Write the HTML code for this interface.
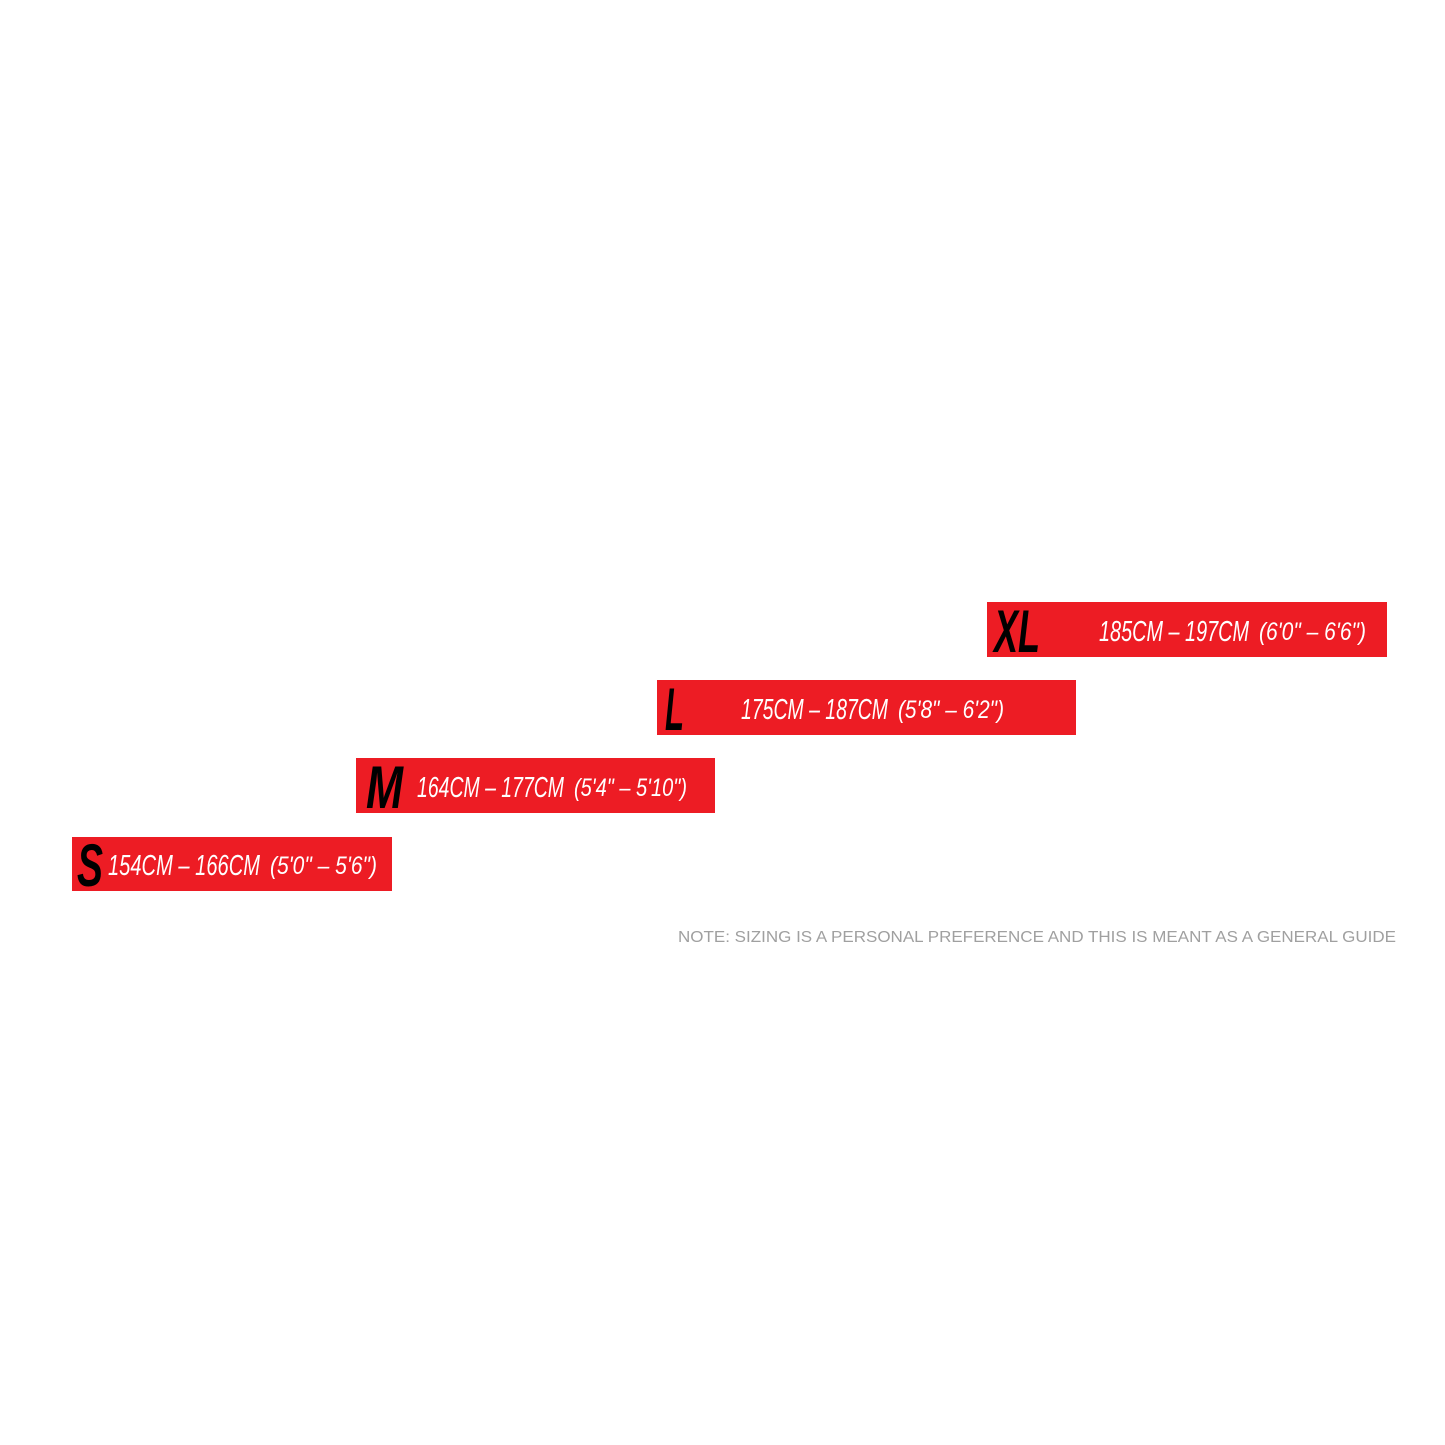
<!DOCTYPE html>
<html><head><meta charset="utf-8"><style>
html,body{margin:0;padding:0;background:#fff;}
svg{display:block}
.big{font-family:"Liberation Sans",sans-serif;font-weight:bold;font-style:italic;fill:#000}
.main{font-family:"Liberation Sans",sans-serif;font-style:italic;fill:#fff}
.par{font-family:"Liberation Sans",sans-serif;font-style:italic;fill:#fff;font-weight:normal}
</style></head><body>
<svg width="1445" height="1445" viewBox="0 0 1445 1445" xmlns="http://www.w3.org/2000/svg">
<rect width="1445" height="1445" fill="#fff"/>
<g fill="#ed1c24">
<rect x="987" y="602" width="400" height="55"/>
<rect x="657" y="680" width="419" height="55"/>
<rect x="356" y="758" width="359" height="55"/>
<rect x="72" y="837" width="320" height="54"/>
</g>
<!-- XL -->
<text class="big" x="994" y="652" font-size="60" textLength="46" lengthAdjust="spacingAndGlyphs">XL</text>
<text class="main" x="1099" y="641" font-size="29" textLength="150" lengthAdjust="spacingAndGlyphs">185CM – 197CM</text>
<text class="par" x="1259" y="640" font-size="25" textLength="107" lengthAdjust="spacingAndGlyphs">(6'0" – 6'6")</text>
<!-- L -->
<text class="big" x="665" y="730" font-size="60" textLength="19" lengthAdjust="spacingAndGlyphs">L</text>
<text class="main" x="741" y="719" font-size="29" textLength="147" lengthAdjust="spacingAndGlyphs">175CM – 187CM</text>
<text class="par" x="898" y="718" font-size="25" textLength="106" lengthAdjust="spacingAndGlyphs">(5'8" – 6'2")</text>
<!-- M -->
<text class="big" x="366" y="808" font-size="60" textLength="37" lengthAdjust="spacingAndGlyphs">M</text>
<text class="main" x="417" y="797" font-size="29" textLength="147" lengthAdjust="spacingAndGlyphs">164CM – 177CM</text>
<text class="par" x="574" y="796" font-size="25" textLength="113" lengthAdjust="spacingAndGlyphs">(5'4" – 5'10")</text>
<!-- S -->
<text class="big" x="77" y="886" font-size="60" textLength="26" lengthAdjust="spacingAndGlyphs">S</text>
<text class="main" x="108" y="875" font-size="29" textLength="152" lengthAdjust="spacingAndGlyphs">154CM – 166CM</text>
<text class="par" x="270" y="874" font-size="25" textLength="107" lengthAdjust="spacingAndGlyphs">(5'0" – 5'6")</text>
<text x="678" y="942" font-family="Liberation Sans, sans-serif" font-size="16" fill="#a0a0a0" textLength="718" lengthAdjust="spacingAndGlyphs">NOTE: SIZING IS A PERSONAL PREFERENCE AND THIS IS MEANT AS A GENERAL GUIDE</text>
</svg>
</body></html>
